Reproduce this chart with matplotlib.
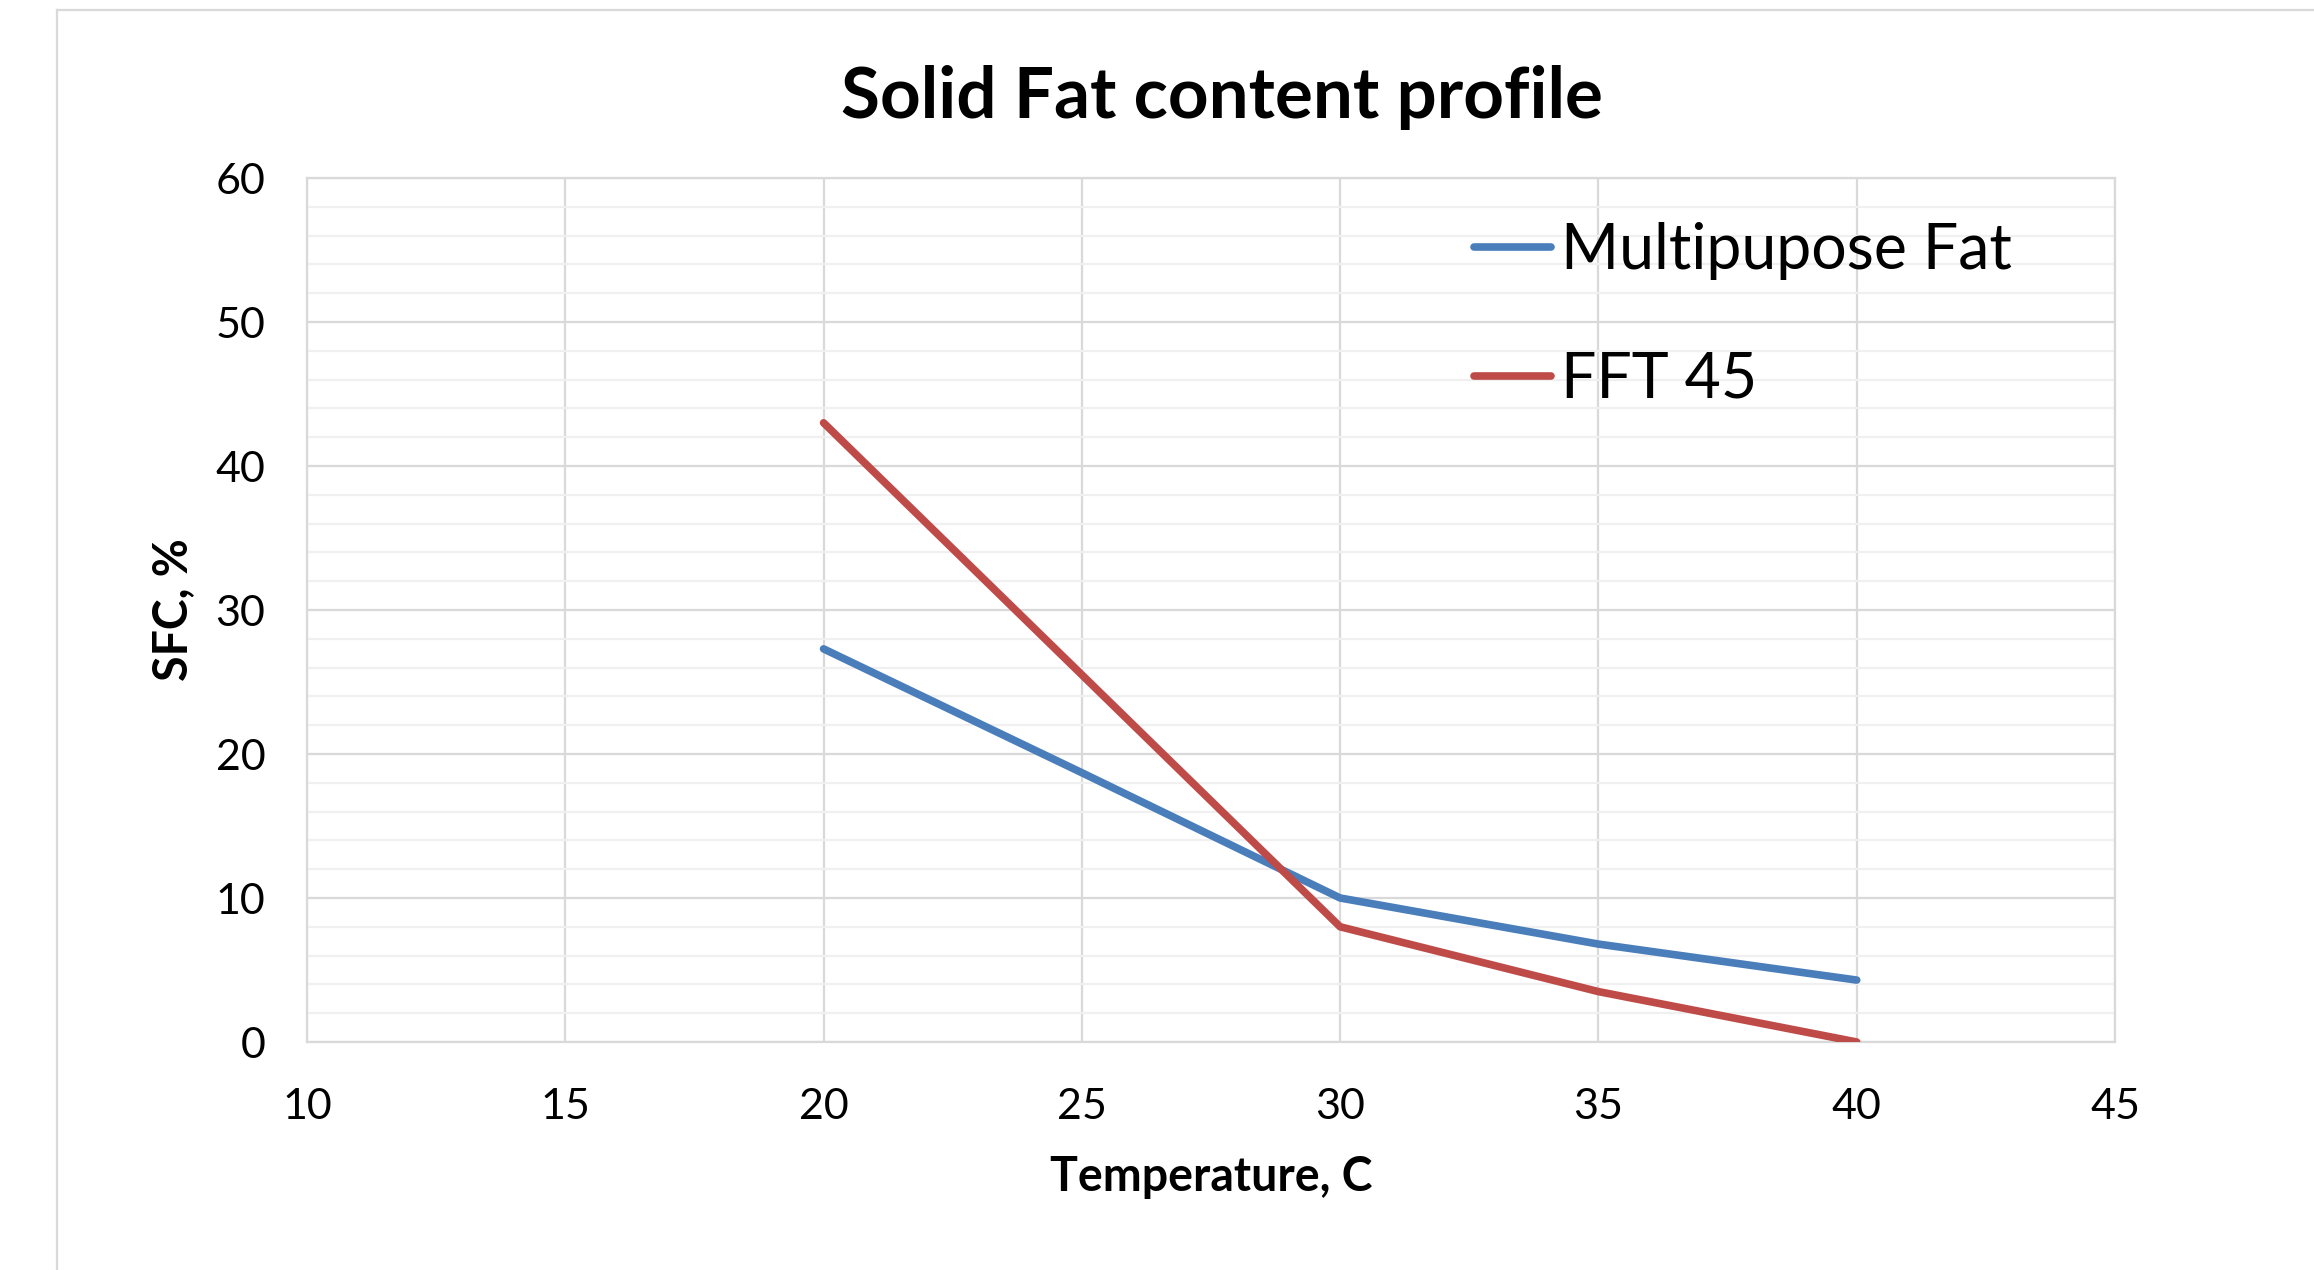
import matplotlib
matplotlib.use('Agg')
import matplotlib.pyplot as plt
from matplotlib.lines import Line2D
from matplotlib.ticker import MultipleLocator

temperatura = [20, 25, 30, 35, 40]
multipurpose_fat = [27.3, 18.7, 10.0, 6.8, 4.3]
fft_45 = [43.0, 25.5, 8.0, 3.5, 0.0]

series_labels = ['Multipupose Fat', 'FFT 45']
x_ticks = [10, 15, 20, 25, 30, 35, 40, 45]
y_ticks = [0, 10, 20, 30, 40, 50, 60]

plt.rcParams['font.family'] = ['Lato', 'DejaVu Sans']

fig = plt.figure(figsize=(23.14, 12.70), dpi=100)
ax = fig.add_axes([307 / 2314, 1 - 1042 / 1270, 1808 / 2314, 864 / 1270])

grey = '#d9d9d9'
ax.plot(temperatura, multipurpose_fat, color='#4A7EBB', lw=5.5,
        solid_capstyle='round', solid_joinstyle='round', label=series_labels[0], zorder=3)
ax.plot(temperatura, fft_45, color='#BE4B48', lw=5.5,
        solid_capstyle='round', solid_joinstyle='round', label=series_labels[1], zorder=3)

ax.set_xlim(10, 45)
ax.set_ylim(0, 60)
ax.set_xticks(x_ticks)
ax.set_yticks(y_ticks)
ax.yaxis.set_minor_locator(MultipleLocator(2))

ax.grid(True, which='major', axis='both', color=grey, lw=1.6)
ax.grid(True, which='minor', axis='y', color='#f0f0f0', lw=1.6)
ax.set_axisbelow(True)
for s in ax.spines.values():
    s.set_color(grey)
    s.set_linewidth(1.6)

ax.tick_params(which='both', length=0, labelsize=31, pad=30)
ax.tick_params(axis='x', pad=33)

ax.set_xlabel('Temperature, C', fontsize=33.5, fontweight='bold', labelpad=21)
ax.set_ylabel('SFC, %', fontsize=33.5, fontweight='bold', labelpad=15)
fig.suptitle('Solid Fat content profile', fontsize=51, fontweight='bold', x=1222 / 2314, y=1 - 98 / 1270, va='center')

ax.legend(loc='upper left', bbox_to_anchor=(1474 / 2314, 1 - 222 / 1270), bbox_transform=fig.transFigure,
          frameon=False, fontsize=45, handlelength=1.23, handletextpad=0.16, labelspacing=1.13, borderpad=0,
          borderaxespad=0)

# chart border
fig.add_artist(Line2D([57 / 2314, 57 / 2314], [0, 1 - 10 / 1270], transform=fig.transFigure, color=grey, lw=1.6))
fig.add_artist(Line2D([57 / 2314, 1], [1 - 10 / 1270, 1 - 10 / 1270], transform=fig.transFigure, color=grey, lw=1.6))

plt.savefig('out.png', dpi=100)
